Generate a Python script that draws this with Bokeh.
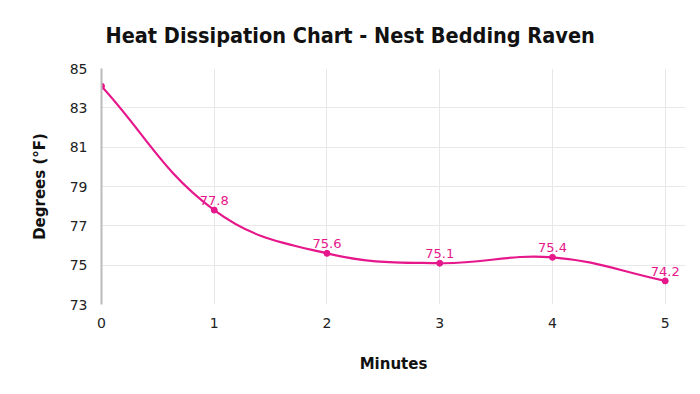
import math
from bokeh.plotting import figure
from bokeh.models import ColumnDataSource, FixedTicker, Range1d
from bokeh.core.properties import value
from bokeh.embed import file_html
from bokeh.resources import INLINE

minutes = [0, 1, 2, 3, 4, 5]
degrees = [84.1, 77.8, 75.6, 75.1, 75.4, 74.2]
labels = ["", "77.8", "75.6", "75.1", "75.4", "74.2"]
y_ticks = [73, 75, 77, 79, 81, 83, 85]

PINK = "#e6168b"
FONT = "DejaVu Sans"

p = figure(width=692, height=386, output_backend="svg", toolbar_location=None,
           x_range=Range1d(0, 5.18), y_range=Range1d(73, 85),
           min_border_left=101, min_border_right=7, min_border_top=68, min_border_bottom=82)

p.title.text = "Heat Dissipation Chart - Nest Bedding Raven"
p.title.align = "left"
p.title.offset = 4
p.title.text_font = "DejaVu Sans Condensed"
p.title.text_font_size = "21.5px"
p.title.text_font_style = "bold"
p.title.text_color = "#111111"
p.title.standoff = 41

p.outline_line_color = None
p.background_fill_color = "white"
p.border_fill_color = "white"

p.xaxis.ticker = FixedTicker(ticks=minutes)
p.yaxis.ticker = FixedTicker(ticks=y_ticks)
for ax in (p.xaxis[0], p.yaxis[0]):
    ax.major_tick_line_color = None
    ax.minor_tick_line_color = None
    ax.major_label_text_font = FONT
    ax.major_label_text_font_size = "14px"
    ax.major_label_text_color = "#222222"
    ax.axis_label_text_font = FONT
    ax.axis_label_text_font_size = "15px"
    ax.axis_label_text_font_style = "bold"
    ax.axis_label_text_color = "#111111"
p.xaxis.axis_line_color = None
p.yaxis.axis_line_color = "#bbbbbb"
p.yaxis.axis_line_width = 2
p.xaxis.axis_label = "Minutes"
p.yaxis.axis_label = "Degrees (°F)"
p.xaxis.major_label_standoff = 7
p.yaxis.major_label_standoff = 8
p.xaxis.axis_label_standoff = 24
p.yaxis.axis_label_standoff = 18

p.xgrid.grid_line_color = "#e8e8e8"
p.ygrid.grid_line_color = "#e8e8e8"
p.xgrid.ticker = FixedTicker(ticks=minutes)
p.ygrid.ticker = FixedTicker(ticks=y_ticks)

# Chart.js-style spline control points (tension 0.4), computed in pixel-aspect space
sx, sy = 112.8, 236 / 12
t = 0.4
n = len(minutes)
cp_prev = [None] * n
cp_next = [None] * n
for i in range(n):
    x, y = minutes[i], degrees[i]
    xp, yp = (minutes[i - 1], degrees[i - 1]) if i > 0 else (x, y)
    xn, yn = (minutes[i + 1], degrees[i + 1]) if i < n - 1 else (x, y)
    d01 = math.hypot((x - xp) * sx, (y - yp) * sy)
    d12 = math.hypot((xn - x) * sx, (yn - y) * sy)
    tot = d01 + d12
    s01 = d01 / tot if tot else 0
    s12 = d12 / tot if tot else 0
    fa, fb = t * s01, t * s12
    cp_prev[i] = (x - fa * (xn - xp), y - fa * (yn - yp))
    cp_next[i] = (x + fb * (xn - xp), y + fb * (yn - yp))

bez = ColumnDataSource(dict(
    x0=minutes[:-1], y0=degrees[:-1], x1=minutes[1:], y1=degrees[1:],
    cx0=[c[0] for c in cp_next[:-1]], cy0=[c[1] for c in cp_next[:-1]],
    cx1=[c[0] for c in cp_prev[1:]], cy1=[c[1] for c in cp_prev[1:]],
))
p.bezier("x0", "y0", "x1", "y1", "cx0", "cy0", "cx1", "cy1", source=bez,
         line_color=PINK, line_width=2.2)

src = ColumnDataSource(dict(x=minutes, y=degrees, lab=labels))
p.scatter("x", "y", source=src, size=6, fill_color=PINK, line_color=PINK)
p.text("x", "y", text="lab", source=src, text_align="center", text_baseline="bottom",
       y_offset=-5, text_font_size="13px", text_color=PINK, text_font=value(FONT))

open("out.html", "w").write(file_html(p, INLINE))
